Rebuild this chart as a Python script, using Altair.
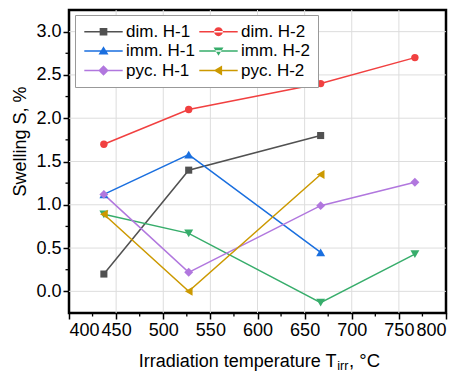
import altair as alt
import pandas as pd

# Irradiation temperatures (°C) and swelling values (%) per measurement series
temps = [437, 527, 667, 767]
series_names = ["dim. H-1", "dim. H-2", "imm. H-1", "imm. H-2", "pyc. H-1", "pyc. H-2"]
dim_h1 = [0.20, 1.40, 1.80, None]
dim_h2 = [1.70, 2.10, 2.40, 2.70]
imm_h1 = [1.12, 1.58, 0.45, None]
imm_h2 = [0.89, 0.67, -0.13, 0.43]
pyc_h1 = [1.12, 0.22, 0.99, 1.26]
pyc_h2 = [0.89, 0.00, 1.35, None]

colors = ["#515151", "#F14040", "#1A6FDF", "#37AD6B", "#B177DE", "#CC9900"]
marker_shapes = ["square", "circle", "triangle-up", "triangle-down", "diamond", "triangle-left"]
marker_sizes = [50, 55, 80, 80, 80, 80]

x_ticks = [400, 450, 500, 550, 600, 650, 700, 750, 800]
x_grid = [450, 500, 550, 600, 650, 700, 750]
x_minor = [425, 475, 525, 575, 625, 675, 725, 775]
y_ticks = [0.0, 0.5, 1.0, 1.5, 2.0, 2.5, 3.0]
y_minor = [0.25, 0.75, 1.25, 1.75, 2.25, 2.75]

title_main = "Irradiation temperature T"
title_sub = "irr"
title_tail = ", °C"
font = "Liberation Sans"

W, H = 377, 303

rows = []
for name, vals in zip(series_names,
                      [dim_h1, dim_h2, imm_h1, imm_h2, pyc_h1, pyc_h2]):
    for t, v in zip(temps, vals):
        if v is not None:
            rows.append({"series": name, "T": t, "S": v})
df = pd.DataFrame(rows)

# Legend glyphs: a short line segment with the series marker on top
seg = "M-2.4,-0.1H2.4V0.1H-2.4Z"
legend_paths = [
    seg + "M-0.48,-0.48H0.48V0.48H-0.48Z",
    seg + "M-0.55,0A0.55,0.55,0,1,0,0.55,0A0.55,0.55,0,1,0,-0.55,0Z",
    seg + "M0,-0.6L0.62,0.45L-0.62,0.45Z",
    seg + "M0,0.6L0.62,-0.45L-0.62,-0.45Z",
    seg + "M0,-0.65L0.65,0L0,0.65L-0.65,0Z",
    seg + "M-0.6,0L0.45,-0.62L0.45,0.62Z",
]

color_scale = alt.Scale(domain=series_names, range=colors)
x_scale = alt.Scale(domain=[400, 800], nice=False, zero=False)
y_scale = alt.Scale(domain=[-0.25, 3.25], nice=False, zero=False)
x_enc = alt.X("T:Q", scale=x_scale, axis=alt.Axis(values=x_ticks, title=None, format="d"))
y_enc = alt.Y("S:Q", scale=y_scale,
              axis=alt.Axis(values=y_ticks, format=".1f", title="Swelling S, %",
                            titleAngle=-90, titleX=-44, titleY=131,
                            titleBaseline="alphabetic", titleAlign="center"))

base = alt.Chart(df)

legend = alt.Legend(
    title=None, orient="none", legendX=6, legendY=5, columns=2,
    direction="horizontal",
    labelFont=font, labelFontSize=17, labelColor="black",
    symbolSize=256, symbolOpacity=1, symbolStrokeWidth=0,
    labelOffset=14, columnPadding=3, rowPadding=1.5,
    padding=8, fillColor="white", strokeColor="#999999",
    symbolOffset=12,
)
legend_layer = base.mark_point(filled=True, opacity=0).encode(
    x=x_enc, y=y_enc,
    color=alt.Color("series:N", scale=color_scale, legend=legend),
    shape=alt.Shape("series:N", scale=alt.Scale(domain=series_names, range=legend_paths),
                    legend=legend),
)

# Grid lines inside the frame
xg = alt.Chart(pd.DataFrame({"v": x_grid})).mark_rule(color="#dddddd", strokeWidth=1).encode(
    x=alt.X("v:Q", scale=x_scale))
yg = alt.Chart(pd.DataFrame({"v": y_ticks})).mark_rule(color="#dddddd", strokeWidth=1).encode(
    y=alt.Y("v:Q", scale=y_scale))

lines = base.mark_line(strokeWidth=1.5).encode(
    x="T:Q", y="S:Q",
    color=alt.Color("series:N", scale=color_scale, legend=None),
)

point_layers = []
for name, shp, sz in zip(series_names, marker_shapes, marker_sizes):
    point_layers.append(
        base.transform_filter(alt.datum.series == name)
        .mark_point(filled=True, shape=shp, size=sz, opacity=1, strokeWidth=1)
        .encode(x="T:Q", y="S:Q",
                color=alt.Color("series:N", scale=color_scale, legend=None))
    )

# Minor ticks on the bottom and left axes
xm = alt.Chart(pd.DataFrame({"v": x_minor})).mark_rule(color="black", strokeWidth=1.3).encode(
    x="v:Q", y=alt.value(H), y2=alt.value(H + 3.5))
ym = alt.Chart(pd.DataFrame({"v": y_minor})).mark_rule(color="black", strokeWidth=1.3).encode(
    y="v:Q", x=alt.value(0), x2=alt.value(-3.5))

# X-axis title with the subscript on T
tdf = pd.DataFrame({"a": [0]})
t_main = alt.Chart(tdf).mark_text(text=title_main, font=font, fontSize=18, align="right",
                                  baseline="alphabetic", color="black").encode(
    x=alt.value(267.5), y=alt.value(356.5))
t_sub = alt.Chart(tdf).mark_text(text=title_sub, font=font, fontSize=12.5, align="left",
                                 baseline="alphabetic", color="black").encode(
    x=alt.value(268.3), y=alt.value(359.5))
t_tail = alt.Chart(tdf).mark_text(text=title_tail, font=font, fontSize=18.5, align="left",
                                  baseline="alphabetic", color="black").encode(
    x=alt.value(280), y=alt.value(356.5))

chart = alt.layer(legend_layer, xg, yg, lines, *point_layers, xm, ym,
                  t_main, t_sub, t_tail).properties(
    width=W, height=H,
    padding={"left": 69, "top": 10, "right": 15, "bottom": 58},
    autosize=alt.AutoSizeParams(type="none"),
).configure_view(
    stroke="black", strokeWidth=2.5
).configure_axis(
    domain=False, grid=False,
    ticks=True, tickColor="black", tickWidth=1.5, tickSize=6,
    labelFont=font, labelFontSize=18, labelColor="black", labelPadding=2,
    titleFont=font, titleFontSize=18, titleFontWeight="normal", titleColor="black",
)

chart.save("out.html", embed_options={"renderer": "svg", "actions": False})
